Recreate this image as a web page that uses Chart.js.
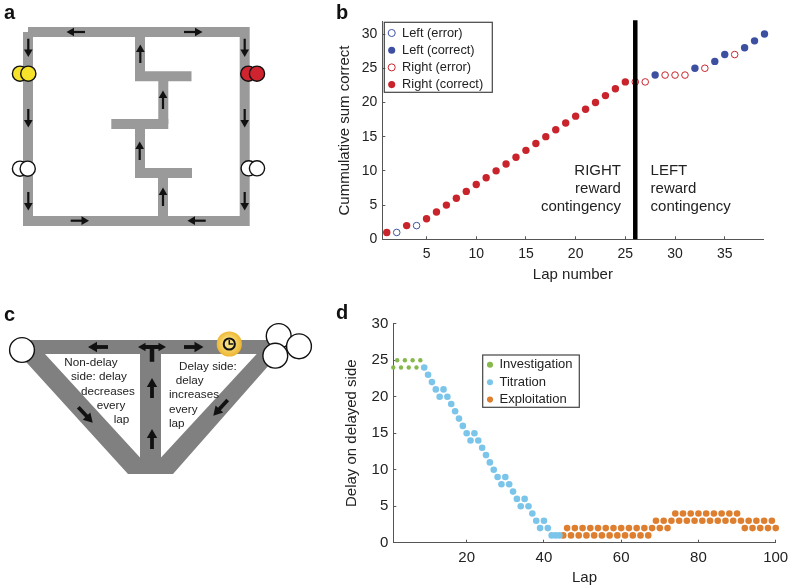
<!DOCTYPE html>
<html lang="en">
<head>
    <meta charset="UTF-8">
    <title>Delay maze</title>
    <script src="https://cdn.jsdelivr.net/npm/chart.js"></script>
    <style>
        body { margin: 0; background: #fff; }
        canvas { position: absolute; }
        .letter { position: absolute; font: bold 20px "Liberation Sans", sans-serif; color: #111; line-height: 24px; }
    </style>
</head>
<body>
<canvas id="maze_a" width="330" height="250" style="left:0;top:0"></canvas>
<canvas id="graph_b" width="458" height="290" style="left:330px;top:0"></canvas>
<canvas id="maze_c" width="330" height="190" style="left:0;top:300px"></canvas>
<canvas id="graph_d" width="458" height="285" style="left:330px;top:300px"></canvas>
<div class="letter" style="left:4px;top:0">a</div>
<div class="letter" style="left:336px;top:0">b</div>
<div class="letter" style="left:4px;top:302px">c</div>
<div class="letter" style="left:336px;top:300px">d</div>
<script>
    // panel b
    const lapLeftError = [2, 4];
    const sumLeftError = [1, 2];
    const lapLeftCorrect = [28, 32, 34, 35, 37, 38, 39];
    const sumLeftCorrect = [24, 25, 26, 27, 28, 29, 30];
    const lapRightError = [26, 27, 29, 30, 31, 33, 36];
    const sumRightError = [23, 23, 24, 24, 24, 25, 27];
    const lapRightCorrect = [1, 3, 5, 6, 7, 8, 9, 10, 11, 12, 13, 14, 15, 16, 17, 18, 19, 20, 21, 22, 23, 24, 25];
    const sumRightCorrect = [1, 2, 3, 4, 5, 6, 7, 8, 9, 10, 11, 12, 13, 14, 15, 16, 17, 18, 19, 20, 21, 22, 23];
    const switchLap = 26;

    // panel d
    const lapInvestigation = [1, 2, 3, 4, 5, 6, 7, 8];
    const delayInvestigation = [24, 25, 24, 25, 24, 25, 24, 25];
    const lapTitration = [9, 10, 11, 12, 13, 14, 15, 16, 17, 18, 19, 20, 21, 22, 23, 24, 25, 26, 27, 28, 29, 30, 31, 32, 33, 34, 35, 36, 37, 38, 39, 40, 41, 42, 43, 44];
    const delayTitration = [24, 23, 22, 21, 20, 21, 20, 19, 18, 17, 16, 15, 14, 15, 14, 13, 12, 11, 10, 9, 8, 9, 8, 7, 6, 5, 6, 5, 4, 3, 2, 3, 2, 1, 1, 1];
    const lapExploitation = [45, 46, 47, 48, 49, 50, 51, 52, 53, 54, 55, 56, 57, 58, 59, 60, 61, 62, 63, 64, 65, 66, 67, 68, 69, 70, 71, 72, 73, 74, 75, 76, 77, 78, 79, 80, 81, 82, 83, 84, 85, 86, 87, 88, 89, 90, 91, 92, 93, 94, 95, 96, 97, 98, 99, 100];
    const delayExploitation = [1, 2, 1, 2, 1, 2, 1, 2, 1, 2, 1, 2, 1, 2, 1, 2, 1, 2, 1, 2, 1, 2, 1, 2, 3, 2, 3, 2, 3, 4, 3, 4, 3, 4, 3, 4, 3, 4, 3, 4, 3, 4, 3, 4, 3, 4, 3, 2, 3, 2, 3, 2, 3, 2, 3, 2];

    // panel a, schematic in page pixels
    const mazeOutline = [[28, 32], [244.7, 32], [244.7, 221], [28, 221], [28, 32]];
    const mazeStem = [
        [[140, 32], [140, 81]], [[135, 76.3], [191.5, 76.3]], [[163.3, 76], [163.3, 124]],
        [[111.3, 124], [168.3, 124]], [[140, 124], [140, 178]], [[135, 173], [192, 173]], [[163, 173], [163, 221]],
    ];
    const mazeArrows = [
        [85, 32, 66.5, 32], [184, 32, 202.5, 32],
        [28.3, 38.7, 28.3, 57], [28.3, 109, 28.3, 127.5], [28.3, 192, 28.3, 210.5],
        [244.7, 38.7, 244.7, 57], [244.7, 109, 244.7, 127.5], [244.7, 192, 244.7, 210.5],
        [140.3, 63, 140.3, 44.5], [163, 109, 163, 90.5], [139.7, 160, 139.7, 141.5], [163, 206, 163, 187.5],
        [70.7, 220.7, 89, 220.7], [205.7, 220.7, 187.5, 220.7],
    ];
    const yellowWells = [[20, 73.7], [28.3, 73.7]];
    const redWells = [[248.3, 73.7], [257, 73.7]];
    const whiteWells = [[20, 168.7], [27.7, 168.7], [248.7, 168.3], [257, 168.3]];

    // panel c, schematic in page pixels
    const deltaOuter = [[22, 340], [277, 340], [277, 356], [173, 474], [128, 474], [27, 363], [22, 356]];
    const deltaHoleLeft = [[45, 354], [140, 354], [140, 457.5]];
    const deltaHoleRight = [[161, 354], [256.7, 354], [161, 457.5]];
    const deltaArrows = [
        [108, 347, 88, 347], [184, 347, 203.5, 347],
        [152, 398, 152, 378], [152, 449, 152, 429],
        [78.3, 407.3, 92.7, 422.7], [227.7, 400, 213.3, 415.7],
    ];
    const deltaWells = [[22, 350], [278.7, 336], [299, 346.3], [275.3, 355.7]];
    const clockCentre = [229.3, 344];
    const nonDelayText = [['Non-delay', 64.3, 362.7], ['side: delay', 71, 377], ['decreases', 81, 391.3], ['every', 96.7, 405.7], ['lap', 113.7, 420]];
    const delayText = [['Delay side:', 179, 366.7], ['delay', 175.7, 381], ['increases', 169, 395], ['every', 169, 409.7], ['lap', 169, 424]];

    const ink = '#222';
    const axisColor = '#555';
    const sans = '"Liberation Sans", Arial, sans-serif';

    function xy(xs, ys) {
        return xs.map((x, i) => ({x: x, y: ys[i]}));
    }

    function pairs(points) {
        return points.map(p => ({x: p[0], y: p[1]}));
    }

    function pathSet(points, color, width) {
        return {
            data: pairs(points), showLine: true, borderColor: color, borderWidth: width, pointRadius: 0,
            borderCapStyle: 'butt', borderJoinStyle: 'miter', clip: false,
        };
    }

    function shapeSet(points, color) {
        return {data: pairs(points), showLine: true, fill: 'shape', backgroundColor: color, borderWidth: 0, pointRadius: 0, clip: false};
    }

    function wellSet(points, color, radius) {
        return {
            data: pairs(points), showLine: false, pointRadius: radius, backgroundColor: color,
            borderColor: '#111', borderWidth: 1.4, clip: false,
        };
    }

    // shaft plus a triangle whose tip lands on the end point
    function arrowSet(a, width, head, both) {
        const dx = a[2] - a[0], dy = a[3] - a[1];
        const len = Math.hypot(dx, dy);
        const ux = dx / len, uy = dy / len;
        const rot = Math.atan2(dx, -dy) * 180 / Math.PI;
        return {
            data: [
                {x: a[0] + (both ? ux * head : 0), y: a[1] + (both ? uy * head : 0)},
                {x: a[2] - ux * head, y: a[3] - uy * head},
            ],
            showLine: true, borderColor: '#111', borderWidth: width, backgroundColor: '#111',
            pointBorderWidth: 0, pointStyle: 'triangle',
            pointRadius: [both ? head : 0, head], pointRotation: [rot + 180, rot], clip: false,
        };
    }

    function flatOptions(xMin, xMax, yMin, yMax) {
        return {
            responsive: false, animation: false, events: [],
            layout: {padding: 0, autoPadding: false},
            plugins: {legend: {display: false}, tooltip: {enabled: false}},
            scales: {
                x: {type: 'linear', display: false, min: xMin, max: xMax},
                y: {type: 'linear', display: false, min: yMin, max: yMax, reverse: true},
            },
        };
    }

    function notesPlugin(notes, font, align, color) {
        return {
            id: 'notes',
            afterDraw(chart) {
                const c = chart.ctx;
                c.save();
                c.font = font;
                c.fillStyle = color;
                c.textAlign = align;
                c.textBaseline = 'middle';
                notes.forEach(n => c.fillText(n[0], chart.scales.x.getPixelForValue(n[1]), chart.scales.y.getPixelForValue(n[2])));
                c.restore();
            },
        };
    }

    // puts the legend at a fixed spot and boxes it
    function legendBoxPlugin(left, top, box) {
        return {
            id: 'legendBox',
            afterLayout(chart) {
                chart.legend.left = left;
                chart.legend.top = top;
            },
            beforeDatasetsDraw(chart) {
                const c = chart.ctx;
                c.save();
                c.strokeStyle = '#444';
                c.lineWidth = 1.2;
                c.strokeRect(box[0], box[1], box[2], box[3]);
                c.restore();
            },
        };
    }

    function axis(cfg) {
        return {
            type: 'linear', min: cfg.min, max: cfg.max,
            border: {color: axisColor, width: 1},
            grid: {drawOnChartArea: false, color: axisColor, tickLength: -3, tickWidth: 1},
            ticks: {stepSize: cfg.step, includeBounds: false, color: ink, font: {family: sans, size: cfg.tickSize}, padding: cfg.tickPad, maxRotation: 0, autoSkip: false},
            title: {display: true, text: cfg.title, color: ink, font: {family: sans, size: 15}, padding: cfg.titlePad},
            afterFit(scale) {
                if (scale.isHorizontal()) {
                    scale.height = cfg.size;
                } else {
                    scale.width = cfg.size;
                }
                scale.paddingLeft = scale.paddingRight = scale.paddingTop = scale.paddingBottom = 0;
            },
        };
    }

    function dotSet(label, xs, ys, radius, fill, stroke, strokeWidth) {
        return {
            label: label, data: xy(xs, ys), showLine: false, pointRadius: radius,
            backgroundColor: fill, borderColor: stroke, borderWidth: strokeWidth, clip: false,
        };
    }

    // panel a
    new Chart(document.getElementById('maze_a'), {
        type: 'scatter',
        data: {
            datasets: [
                wellSet(yellowWells, '#F6E22A', 7.6),
                wellSet(redWells, '#CF2430', 7.6),
                wellSet(whiteWells, '#fff', 7.6),
            ].concat(
                mazeArrows.map(a => arrowSet(a, 2.2, 5)),
                [pathSet(mazeOutline, '#9a9a9a', 10)],
                mazeStem.map(s => pathSet(s, '#9a9a9a', 10)),
            ),
        },
        options: flatOptions(0, 330, 0, 250),
    });

    // panel c
    const ctxC = document.getElementById('maze_c').getContext('2d');
    const clockFill = ctxC.createRadialGradient(229, 42, 2, 229, 44, 13);
    clockFill.addColorStop(0, '#FCE88E');
    clockFill.addColorStop(1, '#EDB42E');
    const clockSet = wellSet([clockCentre], clockFill, 12.6);
    clockSet.borderWidth = 0;
    const clockFace = wellSet([clockCentre], '#F9DE7E', 5.6);
    clockFace.borderWidth = 2;
    const clockHands = pathSet([[clockCentre[0], clockCentre[1] - 4], clockCentre, [clockCentre[0] + 4, clockCentre[1]]], '#111', 1.5);

    new Chart(ctxC, {
        type: 'scatter',
        data: {
            datasets: [
                wellSet(deltaWells, '#fff', 12.4),
                clockHands, clockFace, clockSet,
            ].concat(
                [arrowSet([138, 347, 166, 347], 4, 5, true), pathSet([[152, 348], [152, 361.7]], '#111', 4.5)],
                deltaArrows.map(a => arrowSet(a, 3.8, 6)),
                [shapeSet(deltaHoleLeft, '#fff'), shapeSet(deltaHoleRight, '#fff'), shapeSet(deltaOuter, '#808080')],
            ),
        },
        options: flatOptions(0, 330, 300, 490),
        plugins: [
            notesPlugin(nonDelayText.concat(delayText), '11.7px ' + sans, 'left', ink),
        ],
    });

    // panel b
    new Chart(document.getElementById('graph_b'), {
        type: 'scatter',
        data: {
            datasets: [
                dotSet('Left (error)', lapLeftError, sumLeftError, 3.3, 'rgba(255,255,255,0)', '#3F52A2', 1),
                dotSet('Left (correct)', lapLeftCorrect, sumLeftCorrect, 3.7, '#3C4FA0', '#3C4FA0', 0),
                dotSet('Right (error)', lapRightError, sumRightError, 3.3, 'rgba(255,255,255,0)', '#C9252E', 1),
                dotSet('Right (correct)', lapRightCorrect, sumRightCorrect, 3.7, '#C9232C', '#C9232C', 0),
                {
                    label: 'switch', order: -1, data: xy([switchLap, switchLap], [0, 32]), showLine: true,
                    borderColor: '#000', borderWidth: 4.5, pointRadius: 0, borderCapStyle: 'butt', clip: false,
                },
            ],
        },
        options: {
            responsive: false, animation: false, events: [],
            layout: {padding: {left: 0, top: 21.7, right: 24.5, bottom: 0}, autoPadding: false},
            plugins: {
                tooltip: {enabled: false},
                legend: {
                    position: 'chartArea', align: 'start',
                    labels: {
                        usePointStyle: true, boxWidth: 8, boxHeight: 5, padding: 4.4, color: ink,
                        font: {family: sans, size: 12.8},
                        filter: item => item.text !== 'switch',
                    },
                },
            },
            scales: {
                x: axis({min: 0.55, max: 38.9, step: 5, tickSize: 14, tickPad: 9, title: 'Lap number', titlePad: {top: 6, bottom: 6}, size: 50.7}),
                y: axis({min: 0, max: 31.8, step: 5, tickSize: 14, tickPad: 8, title: 'Cummulative sum correct', titlePad: {top: 6, bottom: 6}, size: 52.3}),
            },
        },
        plugins: [
            legendBoxPlugin(53.3, 22.2, [54.3, 22.3, 108, 70]),
            notesPlugin([['RIGHT', 24.56, 9.96], ['reward', 24.56, 7.3], ['contingency', 24.56, 4.67]], '15px ' + sans, 'right', ink),
            notesPlugin([['LEFT', 27.54, 9.96], ['reward', 27.54, 7.3], ['contingency', 27.54, 4.67]], '15px ' + sans, 'left', ink),
        ],
    });

    // panel d
    new Chart(document.getElementById('graph_d'), {
        type: 'scatter',
        data: {
            datasets: [
                dotSet('Investigation', lapInvestigation, delayInvestigation, 2.2, '#86B94B', '#86B94B', 0),
                dotSet('Titration', lapTitration, delayTitration, 3.3, '#7CC5EA', '#7CC5EA', 0),
                dotSet('Exploitation', lapExploitation, delayExploitation, 3.3, '#DE7F30', '#DE7F30', 0),
            ],
        },
        options: {
            responsive: false, animation: false, events: [],
            layout: {padding: {left: 0, top: 23.7, right: 12.3, bottom: 0}, autoPadding: false},
            plugins: {
                tooltip: {enabled: false},
                legend: {
                    position: 'chartArea', align: 'start',
                    labels: {
                        usePointStyle: true, boxWidth: 6, boxHeight: 4.3, padding: 4.4, color: ink,
                        font: {family: sans, size: 13},
                    },
                },
            },
            scales: {
                x: axis({min: 1, max: 100, step: 20, tickSize: 15, tickPad: 9, title: 'Lap', titlePad: {top: 0, bottom: -2}, size: 42.3}),
                y: axis({min: 0, max: 30, step: 5, tickSize: 15, tickPad: 8, title: 'Delay on delayed side', titlePad: {top: 13, bottom: 6}, size: 63.3}),
            },
        },
        plugins: [legendBoxPlugin(152.6, 53.9, [152.7, 55, 96.6, 52.3])],
    });
</script>
</body>
</html>
